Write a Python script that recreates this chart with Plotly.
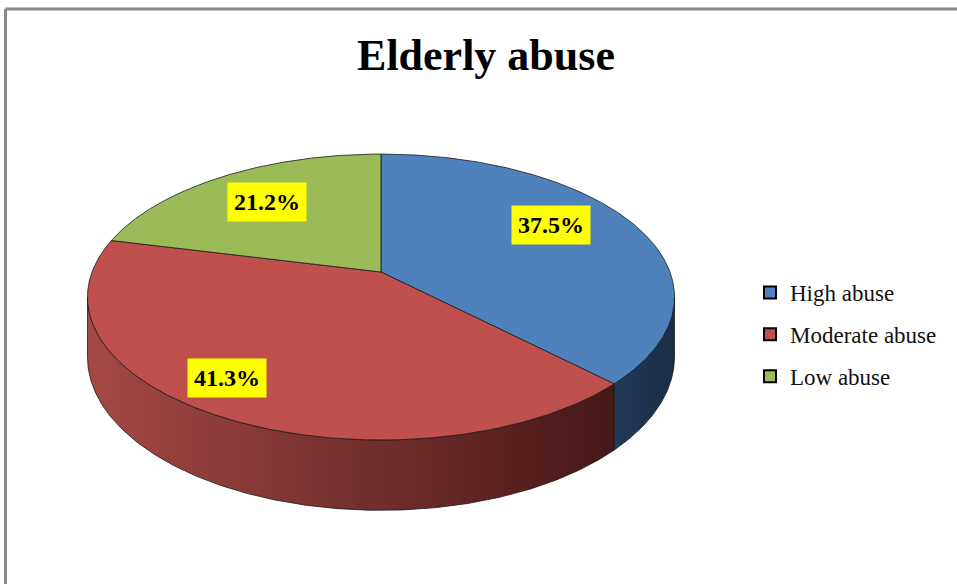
import numpy as np
import plotly.graph_objects as go

# ---- data ----
categories = ["High abuse", "Moderate abuse", "Low abuse"]
values = [37.5, 41.3, 21.2]
label_texts = ["37.5%", "41.3%", "21.2%"]

# ---- style ----
top_colors = ["#4f81bd", "#c0504d", "#9bbb59"]
wall_scales = [
    [[0, "#22395a"], [1, "#1b2d47"]],
    [[0, "#a54844"], [1, "#461817"]],
    [[0, "#7a9444"], [1, "#4d5e2a"]],
]
label_r = [0.72, 0.82, 0.7]
label_dphi = [-7.5, 5.6, 0.0]
FONT = "Liberation Serif"

W, Hf = 957, 584
CX, CY = 381.0, 272.0   # pie apex (pixels)
R, A = 289.0, 138.6     # horizontal radius, vertical depth radius
K = 0.175               # perspective factor
TH = 58.0               # wall thickness


def proj(phi_deg, r=1.0):
    p = np.radians(phi_deg)
    X = r * np.sin(p)
    Z = r * np.cos(p)
    d = 1 + K * Z
    return CX + R * X / d, CY - A * Z / d, d


fig = go.Figure()

total = sum(values)
starts, ends = [], []
acc = 0.0
for v in values:
    starts.append(acc / total * 360)
    acc += v
    ends.append(acc / total * 360)

phi_r = np.degrees(np.arccos(-K))
phi_l = 360 - phi_r

# side walls
for i in range(len(values)):
    a = max(starts[i], phi_r)
    b = min(ends[i], phi_l)
    if b <= a:
        continue
    ph = np.linspace(a, b, 200)
    xt, yt, d = proj(ph)
    yb = yt + TH / d
    xs = np.concatenate([xt, xt[::-1], xt[:1]])
    ys = np.concatenate([yt, yb[::-1], yt[:1]])
    fig.add_trace(go.Scatter(
        x=xs, y=ys, mode="lines", fill="toself",
        fillgradient=dict(type="horizontal", colorscale=wall_scales[i]),
        line=dict(color="#1a1a1a", width=0.8),
        hoverinfo="skip", showlegend=False))

# top faces
for i in range(len(values)):
    ph = np.linspace(starts[i], ends[i], 300)
    xt, yt, _ = proj(ph)
    xs = np.concatenate([[CX], xt, [CX]])
    ys = np.concatenate([[CY], yt, [CY]])
    fig.add_trace(go.Scatter(
        x=xs, y=ys, mode="lines", fill="toself", fillcolor=top_colors[i],
        line=dict(color="#1a1a1a", width=0.8),
        hoverinfo="skip", showlegend=False))

# labels
for i in range(len(values)):
    mid = (starts[i] + ends[i]) / 2 + label_dphi[i]
    lx, ly, _ = proj(mid, label_r[i])
    fig.add_annotation(
        x=lx, y=ly, text=f"<b>{label_texts[i]}</b>", showarrow=False,
        bgcolor="#ffff00", borderpad=6,
        font=dict(family=FONT, size=24, color="black"))

# legend entries
for i, c in enumerate(categories):
    fig.add_trace(go.Scatter(
        x=[None], y=[None], mode="markers", name=c, legendgroup=c,
        marker=dict(symbol="square", size=12, color=top_colors[i],
                    line=dict(color="black", width=2))))

fig.add_shape(type="line", x0=5.5, x1=1000, y0=9, y1=9,
              line=dict(color="#8a8a8a", width=3))
fig.add_shape(type="line", x0=5.5, x1=5.5, y0=9, y1=700,
              line=dict(color="#8a8a8a", width=3))

fig.update_layout(
    width=W, height=Hf, autosize=False,
    margin=dict(l=0, r=0, t=0, b=0),
    paper_bgcolor="white", plot_bgcolor="white",
    xaxis=dict(range=[0, W], visible=False, fixedrange=True),
    yaxis=dict(range=[Hf, 0], visible=False, fixedrange=True),
    title=dict(text="<b>Elderly abuse</b>", x=486 / W, xanchor="center",
               y=1 - 55 / Hf, yanchor="middle",
               font=dict(family=FONT, size=44, color="black")),
    legend=dict(x=750 / W, y=1 - 271 / Hf,
                xanchor="left", yanchor="top",
                font=dict(family=FONT, size=23, color="#111"),
                itemwidth=30, tracegroupgap=9, bgcolor="rgba(0,0,0,0)"),
    showlegend=True,
)

fig.write_html("out.html", config={"displayModeBar": False},
               post_script="document.body.style.margin='0px';document.body.style.overflow='hidden';")
